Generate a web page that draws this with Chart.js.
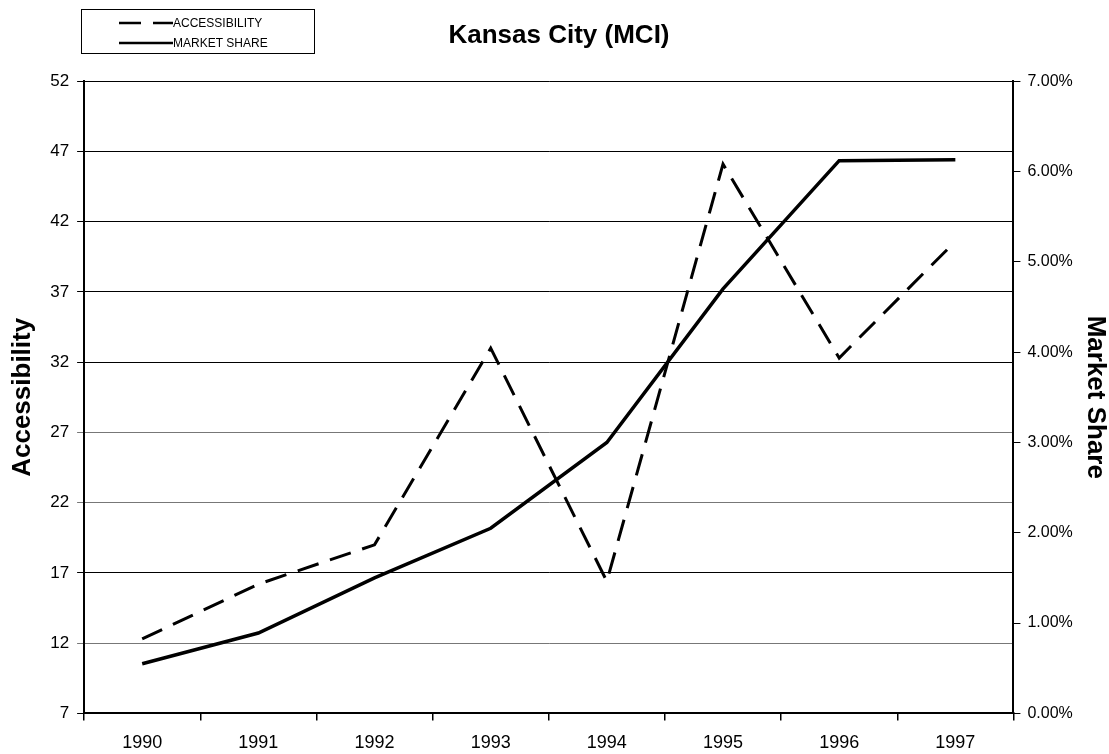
<!DOCTYPE html>
<html lang="en">
<head>
<meta charset="UTF-8">
<title>Kansas City (MCI)</title>
<script src="https://cdn.jsdelivr.net/npm/chart.js"></script>
<style>
  html, body { margin: 0; padding: 0; background: #fff; }
  #wrap { position: relative; width: 1109px; height: 754px; }
</style>
</head>
<body>
<div id="wrap"><canvas id="mciChart"></canvas></div>
<script>
const years = ['1990', '1991', '1992', '1993', '1994', '1995', '1996', '1997'];
const accessibility = [12.3, 16.2, 19.0, 33.0, 16.4, 46.1, 32.3, 40.6];
const marketShare = [0.55, 0.89, 1.50, 2.05, 3.00, 4.70, 6.12, 6.13]; // percent
const fadedGrid = [12, 22, 27]; // these gridlines print lighter in the original

const FONT = '"Liberation Sans", Arial, sans-serif';

// boxed legend in the top-left corner, like the excel original
const boxLegend = {
  id: 'boxLegend',
  afterDraw(chart) {
    const ctx = chart.ctx;
    ctx.save();
    ctx.strokeStyle = '#000';
    ctx.lineWidth = 1;
    ctx.strokeRect(81.5, 9.5, 233, 44);
    chart.data.datasets.forEach((ds, i) => {
      const y = 23 + i * 20;
      ctx.beginPath();
      ctx.setLineDash(ds.borderDash || []);
      ctx.lineWidth = 2.5;
      ctx.moveTo(119, y);
      ctx.lineTo(173, y);
      ctx.stroke();
      ctx.setLineDash([]);
      ctx.fillStyle = '#000';
      ctx.font = '12px ' + FONT;
      ctx.textBaseline = 'middle';
      ctx.fillText(ds.label, 173, y + 0.5);
    });
    ctx.restore();
  }
};

const ctx = document.getElementById('mciChart').getContext('2d');
const chart = new Chart(ctx, {
  type: 'line',
  data: {
    labels: years,
    datasets: [
      {
        label: 'ACCESSIBILITY',
        data: accessibility,
        yAxisID: 'y',
        borderColor: '#000',
        borderWidth: 3,
        borderDash: [22, 12],
        pointRadius: 0,
        tension: 0,
        fill: false
      },
      {
        label: 'MARKET SHARE',
        data: marketShare,
        yAxisID: 'y1',
        borderColor: '#000',
        borderWidth: 3.5,
        pointRadius: 0,
        tension: 0,
        fill: false
      }
    ]
  },
  options: {
    responsive: true,
    maintainAspectRatio: false,
    animation: false,
    layout: { padding: { left: 7, right: -2, top: 0, bottom: -12 } },
    plugins: {
      legend: { display: false },
      tooltip: { enabled: false },
      title: {
        display: true,
        text: 'Kansas City (MCI)',
        color: '#000',
        font: { family: FONT, size: 26, weight: 'bold' },
        padding: { top: 20, bottom: 30 }
      }
    },
    scales: {
      x: {
        offset: true,
        grid: { offset: true, drawOnChartArea: false, color: '#000', lineWidth: 1.5, tickLength: 7 },
        border: { color: '#000', width: 2 },
        ticks: { color: '#000', font: { family: FONT, size: 18 }, padding: 12, maxRotation: 0 }
      },
      y: {
        position: 'left',
        min: 7,
        max: 52,
        ticks: { stepSize: 5, color: '#000', font: { family: FONT, size: 17 }, padding: 8 },
        grid: {
          color: c => fadedGrid.includes(c.tick && c.tick.value) ? '#777' : '#000',
          lineWidth: 1,
          tickLength: 7
        },
        border: { color: '#000', width: 2 },
        title: {
          display: true,
          text: 'Accessibility',
          color: '#000',
          font: { family: FONT, size: 26, weight: 'bold' },
          padding: { top: 0, bottom: 4 }
        }
      },
      y1: {
        position: 'right',
        min: 0,
        max: 7,
        ticks: {
          stepSize: 1,
          color: '#000',
          font: { family: FONT, size: 16 },
          padding: 7,
          callback: v => v.toFixed(2) + '%'
        },
        grid: { drawOnChartArea: false, color: '#000', tickLength: 7 },
        border: { color: '#000', width: 2 },
        title: {
          display: true,
          text: 'Market Share',
          color: '#000',
          font: { family: FONT, size: 26, weight: 'bold' },
          padding: { top: 0, bottom: 0 }
        }
      }
    }
  },
  plugins: [boxLegend]
});
</script>
</body>
</html>
